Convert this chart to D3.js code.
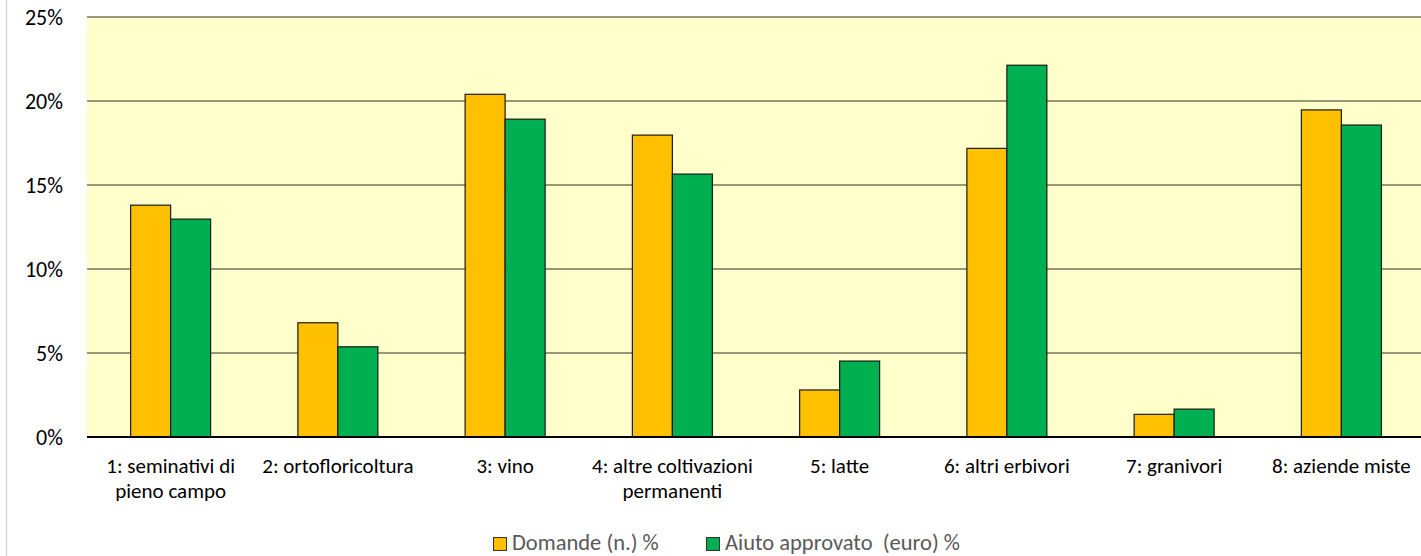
<!DOCTYPE html>
<html><head><meta charset="utf-8">
<script src="https://cdn.jsdelivr.net/npm/d3@7"></script>
<style>
html,body{margin:0;padding:0;background:#fff;}
svg{display:block;font-family:Carlito,Calibri,Lato,"Open Sans",sans-serif;}
</style></head>
<body><svg id="c" width="1421" height="556"></svg>
<script>
const categories = ["1: seminativi di|pieno campo","2: ortofloricoltura","3: vino","4: altre coltivazioni|permanenti","5: latte","6: altri erbivori","7: granivori","8: aziende miste"];
const domande = [13.8, 6.8, 20.4, 17.97, 2.8, 17.18, 1.35, 19.47];
const aiuto = [12.97, 5.37, 18.92, 15.65, 4.52, 22.13, 1.66, 18.57];
const seriesNames = ["Domande (n.) %", "Aiuto approvato\u00a0 (euro) %"];
const seriesColors = ["#FFC000", "#00B050"];
const yTicks = [0, 5, 10, 15, 20, 25];

const svg = d3.select("#c");
const L = 87, T = 17, B = 437, R = 1425;
const x = d3.scaleBand().domain(categories).range([L, R]).paddingInner(0).paddingOuter(0);
const y = d3.scaleLinear().domain([0, 25]).range([B, T]);
const barW = 40;

// chart frame left edge
svg.append("line").attr("x1",6.5).attr("x2",6.5).attr("y1",0).attr("y2",556).attr("stroke","#d9d9d9").attr("stroke-width",1.5);

svg.append("rect").attr("x",L).attr("y",T).attr("width",R-L).attr("height",B-T).attr("fill","#FFFFCC");

// gridlines
svg.append("g").selectAll("line").data(yTicks.filter(d=>d>0)).join("line")
  .attr("x1",L).attr("x2",R).attr("y1",d=>y(d)).attr("y2",d=>y(d))
  .attr("stroke","#77775c").attr("stroke-width",1.6);

// y axis labels
const yAxis = d3.axisLeft(y).tickValues(yTicks).tickFormat(d=>d+"%").tickSize(0).tickPadding(24);
const ya = svg.append("g").attr("transform",`translate(${L},0)`).call(yAxis);
ya.select(".domain").remove();
ya.selectAll("text").attr("font-size",22).attr("fill","#000").attr("font-family","Carlito,Calibri,Lato,'Open Sans',sans-serif");

// bars
const series = [domande, aiuto];
series.forEach((vals, si) => {
  svg.append("g").selectAll("rect").data(categories.map((c,i)=>({c, v: vals[i]}))).join("rect")
    .attr("x", d => x(d.c) + x.bandwidth()/2 - barW + si*barW)
    .attr("y", d => y(d.v))
    .attr("width", barW)
    .attr("height", d => y(0) - y(d.v))
    .attr("fill", seriesColors[si])
    .attr("stroke", "#1a1a1a").attr("stroke-width", 1.2);
});

// baseline
svg.append("line").attr("x1",L).attr("x2",R).attr("y1",B).attr("y2",B).attr("stroke","#000").attr("stroke-width",2);

// category labels
const xa = svg.append("g");
categories.forEach(c => {
  const lines = c.split("|");
  const t = xa.append("text").attr("x", x(c)+x.bandwidth()/2).attr("y", 473)
    .attr("text-anchor","middle").attr("font-size",21).attr("fill","#000");
  lines.forEach((ln,i)=> t.append("tspan").attr("x", x(c)+x.bandwidth()/2).attr("dy", i===0?0:25).text(ln));
});

// legend
const legendX = [493, 706];
seriesNames.forEach((n,i)=>{
  svg.append("rect").attr("x",legendX[i]+0.5).attr("y",537.5).attr("width",13).attr("height",13)
    .attr("fill",seriesColors[i]).attr("stroke","#333").attr("stroke-width",1);
  svg.append("text").attr("x",legendX[i]+19).attr("y",550).attr("font-size",22.5).attr("fill","#595959").text(n);
});
</script></body></html>
